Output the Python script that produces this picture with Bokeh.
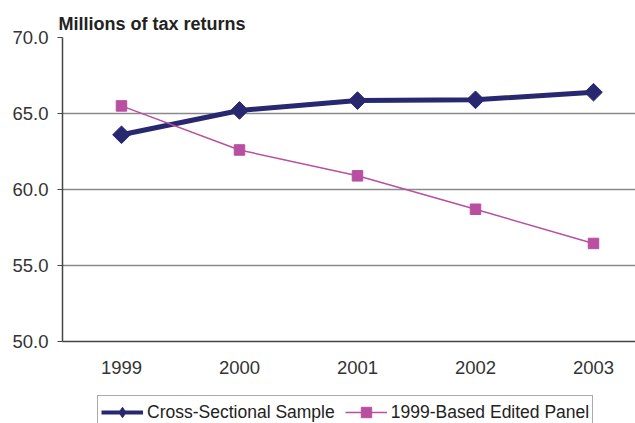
import math
from bokeh.plotting import figure
from bokeh.layouts import column
from bokeh.models import Range1d, FixedTicker, Legend, LegendItem, PrintfTickFormatter, Title
from bokeh.embed import file_html
from bokeh.resources import INLINE

years = [1999, 2000, 2001, 2002, 2003]
cross_sectional = [63.6, 65.2, 65.85, 65.9, 66.4]
edited_panel = [65.5, 62.6, 60.9, 58.7, 56.45]
y_ticks = [50, 55, 60, 65, 70]
series_names = ["Cross-Sectional Sample", "1999-Based Edited Panel"]

NAVY = "#27286f"
MAGENTA = "#b84fa0"
FONT = "Liberation Sans"

p = figure(width=635, height=395, output_backend="svg", toolbar_location=None,
           x_range=Range1d(1998.5, 2003.356), y_range=Range1d(50, 70),
           min_border_left=62, min_border_right=0, min_border_top=37, min_border_bottom=54)
p.outline_line_color = None
p.background_fill_color = "white"

t = Title(text="Millions of tax returns", text_font=FONT, text_font_size="18px",
          text_font_style="bold", text_color="#222222", offset=-4, standoff=8)
p.add_layout(t, "above")
p.title.visible = False

p.line(years, cross_sectional, line_color=NAVY, line_width=5)
p.scatter(years, cross_sectional, marker="square", angle=math.pi / 4, size=12.5,
          fill_color=NAVY, line_color=NAVY)
p.line(years, edited_panel, line_color=MAGENTA, line_width=1.5)
p.scatter(years, edited_panel, marker="square", size=10.5, fill_color=MAGENTA, line_color=MAGENTA)

p.yaxis.ticker = FixedTicker(ticks=y_ticks)
p.yaxis.formatter = PrintfTickFormatter(format="%.1f")
p.yaxis.major_label_text_font = FONT
p.yaxis.major_label_text_font_size = "18.5px"
p.yaxis.major_label_text_color = "#333333"
p.yaxis.axis_line_color = "#444444"
p.yaxis.axis_line_width = 1.5
p.yaxis.major_tick_line_color = "#444444"
p.yaxis.major_tick_out = 5
p.yaxis.major_tick_in = 0
p.yaxis.minor_tick_line_color = None
p.yaxis.major_label_standoff = 9

p.xaxis.ticker = FixedTicker(ticks=years)
p.xaxis.major_label_text_font = FONT
p.xaxis.major_label_text_font_size = "18.5px"
p.xaxis.major_label_text_color = "#333333"
p.xaxis.axis_line_color = "#444444"
p.xaxis.axis_line_width = 1.5
p.xaxis.major_tick_line_color = None
p.xaxis.minor_tick_line_color = None
p.xaxis.major_label_standoff = 13

p.xgrid.grid_line_color = None
p.ygrid.grid_line_color = "#8a8a8a"
p.ygrid.grid_line_width = 1.5

# legend strip (sample glyphs lie outside its visible range)
lg = figure(width=635, height=28, output_backend="svg", toolbar_location=None,
            x_range=Range1d(0, 1), y_range=Range1d(0, 1),
            min_border_left=0, min_border_right=0, min_border_top=0, min_border_bottom=0)
lg.axis.visible = False
lg.grid.visible = False
lg.outline_line_color = None
far = [-10, -9]
e1 = lg.line(far, far, line_color=NAVY, line_width=4)
e1m = lg.scatter(far, far, marker="diamond", size=12, fill_color=NAVY, line_color=NAVY)
e2 = lg.line(far, far, line_color=MAGENTA, line_width=1.5)
e2m = lg.scatter(far, far, marker="square", size=9, fill_color=MAGENTA, line_color=MAGENTA)

legend = Legend(items=[LegendItem(label=series_names[0], renderers=[e1, e1m]),
                       LegendItem(label=series_names[1], renderers=[e2, e2m])],
                orientation="horizontal", location=(35, -6),
                label_text_font=FONT, label_text_font_size="17.5px", label_text_color="#222222",
                glyph_width=42, glyph_height=26, label_standoff=4, spacing=10,
                border_line_color="#555555", border_line_width=1, padding=3, margin=0)
lg.add_layout(legend, "center")

open("out.html", "w").write(file_html(column(p, lg, spacing=0), INLINE))
